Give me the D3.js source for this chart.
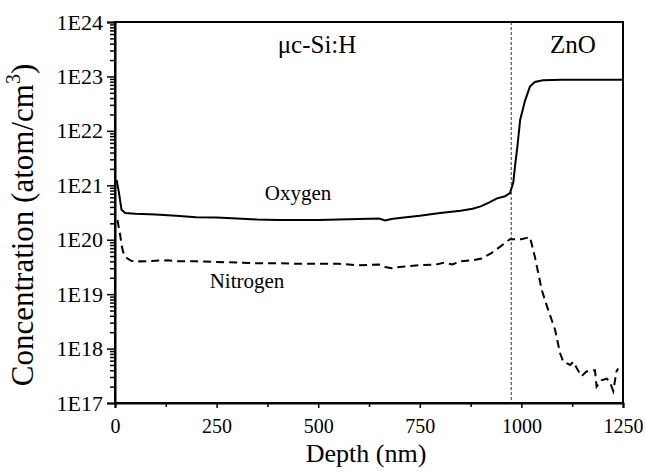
<!DOCTYPE html>
<html>
<head>
<meta charset="utf-8">
<script src="https://cdn.jsdelivr.net/npm/d3@7"></script>
<style>
  body { margin: 0; background: #fff; }
</style>
</head>
<body>
<div id="chart"></div>
<script>
// depth profile, atom/cm3
const oxygenDepth = [4, 10, 16, 25, 50, 100, 150, 200, 250, 300, 350, 400, 450, 500, 550, 600, 650, 665, 680, 700,
  750, 800, 850, 880, 900, 920, 940, 960, 972, 980, 985, 990, 997, 1009, 1021, 1033, 1053, 1100, 1250];
const oxygenConc = [1.26e21, 7.1e20, 3.55e20, 3.1e20, 3.0e20, 2.9e20, 2.75e20, 2.6e20, 2.55e20, 2.45e20, 2.35e20,
  2.3e20, 2.3e20, 2.3e20, 2.35e20, 2.4e20, 2.45e20, 2.25e20, 2.4e20, 2.5e20, 2.75e20, 3.1e20, 3.4e20, 3.7e20,
  4.1e20, 4.8e20, 5.75e20, 6.3e20, 7.2e20, 1.12e21, 2.5e21, 5.0e21, 1.6e22, 3.6e22, 6.5e22, 7.9e22, 8.5e22,
  8.7e22, 8.7e22];

const nitrogenDepth = [6, 12, 17, 22, 29, 40, 60, 100, 130, 150, 200, 250, 300, 350, 400, 450, 500, 550, 600, 650,
  665, 680, 700, 750, 790, 810, 830, 850, 880, 902, 925, 947, 972, 1000, 1021, 1033, 1050, 1066, 1083, 1095, 1103,
  1120, 1128, 1136, 1148, 1160, 1181, 1185, 1197, 1210, 1218, 1226, 1234, 1238];
const nitrogenConc = [2.3e20, 1.32e20, 7.4e19, 5.25e19, 4.6e19, 4.1e19, 4.0e19, 4.1e19, 4.2e19, 4.0e19, 4.0e19,
  3.9e19, 3.8e19, 3.7e19, 3.7e19, 3.6e19, 3.6e19, 3.6e19, 3.4e19, 3.5e19, 3.15e19, 3.0e19, 3.15e19, 3.4e19,
  3.5e19, 3.8e19, 3.5e19, 4.0e19, 4.2e19, 4.5e19, 5.6e19, 7.4e19, 1.02e20, 1.02e20, 1.12e20, 4.9e19, 1.2e19,
  5.1e18, 2.2e18, 8.3e17, 5.75e17, 5.0e17, 5.75e17, 4.4e17, 3.1e17, 3.8e17, 4.0e17, 2.0e17, 2.6e17, 2.8e17,
  2.4e17, 1.66e17, 3.8e17, 4.3e17];

const xTicks = [0, 250, 500, 750, 1000, 1250];
const yTickExp = [17, 18, 19, 20, 21, 22, 23, 24];
const interfaceDepth = 975;

const serif = "'Liberation Serif', 'DejaVu Serif', serif";
const W = 646, H = 472;
const margin = { top: 22, right: 23, bottom: 69, left: 115 };
const width = W - margin.left - margin.right,
  height = H - margin.top - margin.bottom;

const svg = d3.select('#chart').append('svg')
  .attr('width', W).attr('height', H)
  .attr('font-family', serif);
const g = svg.append('g')
  .attr('transform', `translate(${margin.left},${margin.top})`);

const x = d3.scaleLinear().domain([0, 1250]).range([0, width]);
const y = d3.scaleLog().domain([1e17, 1e24]).range([height, 0]);

// minor ticks
const yMinor = [];
yTickExp.slice(0, -1).forEach(e => { for (let k = 2; k < 10; k++) yMinor.push(k * Math.pow(10, e)); });
const xMinor = d3.range(125, 1250, 250);

g.append('g')
  .call(d3.axisLeft(y).tickValues(yMinor).tickSize(5).tickFormat(''))
  .call(a => a.select('.domain').remove());
g.append('g')
  .call(d3.axisBottom(x).tickValues(xMinor).tickSize(4).tickFormat(''))
  .attr('transform', `translate(0,${height})`)
  .call(a => a.select('.domain').remove());

const yAxis = g.append('g')
  .call(d3.axisLeft(y).tickValues(yTickExp.map(e => Math.pow(10, e))).tickSize(8).tickPadding(4)
    .tickFormat(d => '1E' + Math.round(Math.log10(d))));
yAxis.attr('font-family', serif).attr('font-size', 22);

const xAxis = g.append('g')
  .attr('transform', `translate(0,${height})`)
  .call(d3.axisBottom(x).tickValues(xTicks).tickSize(5).tickPadding(11).tickFormat(d3.format('d')));
xAxis.attr('font-family', serif).attr('font-size', 20);

g.selectAll('.domain').attr('stroke-width', 2);
g.selectAll('.tick line').attr('stroke-width', 1.5);
g.selectAll('.tick text').attr('fill', '#000');

// frame
g.append('rect')
  .attr('x', 0).attr('y', 0).attr('width', width).attr('height', height)
  .attr('fill', 'none').attr('stroke', '#000').attr('stroke-width', 2);

// interface
g.append('line')
  .attr('x1', x(interfaceDepth)).attr('x2', x(interfaceDepth))
  .attr('y1', 0).attr('y2', height)
  .attr('stroke', '#333').attr('stroke-width', 1).attr('stroke-dasharray', '3,2');

const line = d3.line().x(d => x(d[0])).y(d => y(d[1]));

g.append('path')
  .datum(d3.zip(oxygenDepth, oxygenConc))
  .attr('d', line)
  .attr('fill', 'none').attr('stroke', '#000').attr('stroke-width', 2);

g.append('path')
  .datum(d3.zip(nitrogenDepth, nitrogenConc))
  .attr('d', line)
  .attr('fill', 'none').attr('stroke', '#000').attr('stroke-width', 2)
  .attr('stroke-dasharray', '8,5');

// labels
g.append('text').attr('x', 202).attr('y', 31).attr('text-anchor', 'middle')
  .attr('font-size', 25).text('μc-Si:H');
g.append('text').attr('x', 458).attr('y', 31).attr('text-anchor', 'middle')
  .attr('font-size', 25).text('ZnO');
g.append('text').attr('x', 183).attr('y', 178).attr('text-anchor', 'middle')
  .attr('font-size', 21).text('Oxygen');
g.append('text').attr('x', 132).attr('y', 266).attr('text-anchor', 'middle')
  .attr('font-size', 21).text('Nitrogen');

svg.append('text')
  .attr('x', margin.left + width / 2 - 3).attr('y', 462)
  .attr('text-anchor', 'middle').attr('font-size', 26)
  .text('Depth (nm)');

const yt = svg.append('text')
  .attr('transform', `translate(33,225) rotate(-90)`)
  .attr('text-anchor', 'middle').attr('font-size', 31);
yt.append('tspan').text('Concentration (atom/cm');
yt.append('tspan').attr('font-size', 20).attr('dy', -13).text('3');
yt.append('tspan').attr('dy', 13).text(')');
</script>
</body>
</html>
